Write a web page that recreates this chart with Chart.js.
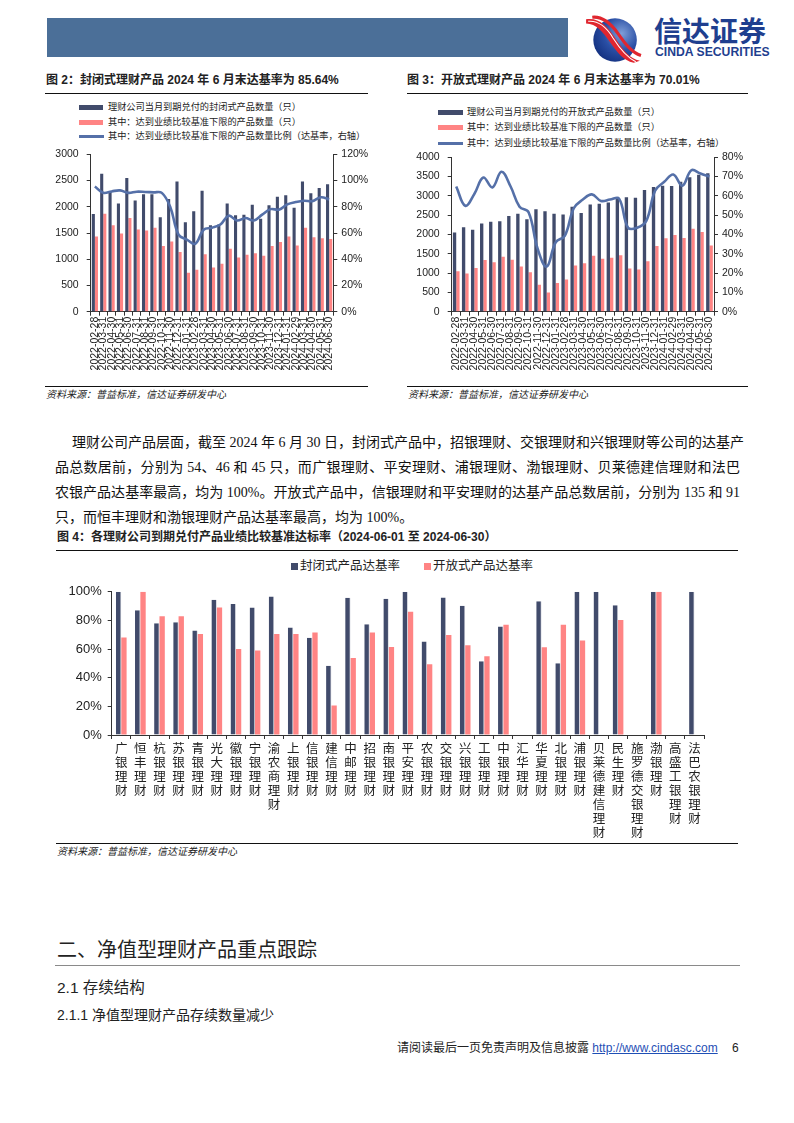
<!DOCTYPE html>
<html><head><meta charset="utf-8">
<script src="https://cdn.jsdelivr.net/npm/chart.js@4/dist/chart.umd.min.js"></script>
<style>
html,body{margin:0;padding:0;background:#fff;}
#page{position:relative;width:794px;height:1123px;overflow:hidden;font-family:"Liberation Sans","Noto Sans CJK SC",sans-serif;color:#222;}
.abs{position:absolute;white-space:nowrap;}
.cjk{font-family:"Liberation Sans","Noto Sans CJK SC",sans-serif;}
.title{font-size:12px;font-weight:bold;line-height:14px;}
.lgtxt{font-size:9.2px;line-height:11px;color:#222;}
.src{font-size:10px;font-style:italic;line-height:12px;color:#222;}
.hl{position:absolute;height:0;border-top:1.3px solid #111;}
.para{font-family:"Liberation Serif","Noto Sans CJK SC",serif;font-size:14px;line-height:18px;color:#111;text-align:justify;text-align-last:justify;white-space:nowrap;}
.cw{position:absolute;}
</style></head>
<body><div id="page">

<!-- header -->
<div class="abs" style="left:47px;top:18px;width:521px;height:39px;background:#4B6F98;"></div>
<svg class="abs" style="left:584px;top:15px" width="58" height="50" viewBox="0 0 56 48">
<defs><radialGradient id="g" cx="0.65" cy="0.35" r="0.8"><stop offset="0" stop-color="#7f9ed8"/><stop offset="0.5" stop-color="#2a4fa5"/><stop offset="1" stop-color="#0e2a78"/></radialGradient></defs>
<circle cx="30" cy="24" r="21" fill="url(#g)"/>
<path d="M2 4 C14 2 22 10 30 22 C38 34 44 42 54 44 L48 46 C38 44 32 36 25 26 C18 16 12 8 2 8 Z" fill="#e0262f"/>
<path d="M4 6 C15 5 22 12 28 22 C35 33 42 41 50 45" stroke="#fff" stroke-width="1" fill="none"/>
<path d="M8 2 C18 1 26 8 33 18 C40 28 46 36 55 39" stroke="#e0262f" stroke-width="3" fill="none"/>
</svg>
<div class="abs cjk" style="left:654px;top:17px;font-size:28px;line-height:32px;font-weight:bold;color:#1f3f8f;">信达证券</div>
<div class="abs" style="left:655px;top:45.5px;font-size:12.2px;line-height:13px;font-weight:bold;color:#1f3f8f;">CINDA SECURITIES</div>

<!-- fig 2/3 titles -->
<div class="abs title cjk" style="left:46px;top:73px;">图 2：封闭式理财产品 2024 年 6 月末达基率为 85.64%</div>
<div class="abs title cjk" style="left:407px;top:73px;">图 3：开放式理财产品 2024 年 6 月末达基率为 70.01%</div>
<div class="hl" style="left:45px;top:93px;width:323px;"></div>
<div class="hl" style="left:407px;top:93px;width:341px;"></div>

<!-- legend chart 2 -->
<div class="abs" style="left:79px;top:105px;width:24px;height:5px;background:#414B6B;"></div>
<div class="abs lgtxt" style="left:108px;top:102px;">理财公司当月到期兑付的封闭式产品数量（只）</div>
<div class="abs" style="left:79px;top:119.8px;width:24px;height:5px;background:#FF8484;"></div>
<div class="abs lgtxt" style="left:108px;top:116.8px;">其中：达到业绩比较基准下限的产品数量（只）</div>
<div class="abs" style="left:79px;top:134.5px;width:25px;height:3px;background:#5570A8;"></div>
<div class="abs lgtxt" style="left:108px;top:130.5px;">其中：达到业绩比较基准下限的产品数量比例（达基率，右轴）</div>

<!-- legend chart 3 -->
<div class="abs" style="left:438px;top:110.2px;width:25px;height:5px;background:#414B6B;"></div>
<div class="abs lgtxt" style="left:467px;top:107.2px;">理财公司当月到期兑付的开放式产品数量（只）</div>
<div class="abs" style="left:438px;top:125.2px;width:25px;height:5px;background:#FF8484;"></div>
<div class="abs lgtxt" style="left:467px;top:122.2px;">其中：达到业绩比较基准下限的产品数量（只）</div>
<div class="abs" style="left:438px;top:141.8px;width:25px;height:3px;background:#5570A8;"></div>
<div class="abs lgtxt" style="left:467px;top:137.8px;">其中：达到业绩比较基准下限的产品数量比例（达基率，右轴）</div>

<div class="cw" style="left:45px;top:140px;width:323px;height:240px;"><canvas id="c2"></canvas></div>
<div class="cw" style="left:405px;top:143px;width:343px;height:237px;"><canvas id="c3"></canvas></div>

<div class="hl" style="left:45px;top:386px;width:323px;"></div>
<div class="hl" style="left:407px;top:386px;width:341px;"></div>
<div class="abs src cjk" style="left:46px;top:389px;">资料来源：普益标准，信达证券研发中心</div>
<div class="abs src cjk" style="left:408px;top:389px;">资料来源：普益标准，信达证券研发中心</div>

<!-- paragraph -->
<div class="abs para" style="left:72px;top:434px;width:668px;">理财公司产品层面，截至 2024 年 6 月 30 日，封闭式产品中，招银理财、交银理财和兴银理财等公司的达基产</div>
<div class="abs para" style="left:55px;top:459px;width:685px;">品总数居前，分别为 54、46 和 45 只，而广银理财、平安理财、浦银理财、渤银理财、贝莱德建信理财和法巴</div>
<div class="abs para" style="left:55px;top:484px;width:685px;">农银产品达基率最高，均为 100%。开放式产品中，信银理财和平安理财的达基产品总数居前，分别为 135 和 91</div>
<div class="abs para" style="left:55px;top:509px;text-align-last:left;">只，而恒丰理财和渤银理财产品达基率最高，均为 100%。</div>

<!-- fig 4 -->
<div class="abs title cjk" style="left:57px;top:530px;">图 4：各理财公司到期兑付产品业绩比较基准达标率（2024-06-01 至 2024-06-30）</div>
<div class="hl" style="left:56px;top:550px;width:682px;"></div>
<div class="abs" style="left:291px;top:563px;width:6.5px;height:6.5px;background:#414B6B;"></div>
<div class="abs cjk" style="left:300px;top:558px;font-size:12.5px;line-height:16px;">封闭式产品达基率</div>
<div class="abs" style="left:424px;top:563px;width:6.5px;height:6.5px;background:#FF8484;"></div>
<div class="abs cjk" style="left:433px;top:558px;font-size:12.5px;line-height:16px;">开放式产品达基率</div>
<div class="cw" style="left:55px;top:575px;width:683px;height:268px;"><canvas id="c4"></canvas></div>
<div class="hl" style="left:56px;top:843px;width:682px;"></div>
<div class="abs src cjk" style="left:57px;top:846px;">资料来源：普益标准，信达证券研发中心</div>

<!-- section -->
<div class="abs cjk" style="left:57px;top:937px;font-size:20px;line-height:26px;color:#222;">二、净值型理财产品重点跟踪</div>
<div class="abs" style="left:55px;top:965px;width:685px;height:0;border-top:1px solid #8a8a8a;"></div>
<div class="abs cjk" style="left:57px;top:978px;font-size:15.5px;line-height:20px;color:#222;">2.1 存续结构</div>
<div class="abs cjk" style="left:57px;top:1006px;font-size:14px;line-height:18px;color:#222;">2.1.1 净值型理财产品存续数量减少</div>

<!-- footer -->
<div class="abs cjk" style="left:397px;top:1040px;font-size:12px;line-height:16px;color:#222;">请阅读最后一页免责声明及信息披露 <span style="color:#1f4fb5;text-decoration:underline;font-family:'Liberation Sans';">http://www.cindasc.com</span></div>
<div class="abs" style="left:732px;top:1040px;font-size:12px;line-height:16px;">6</div>

</div>
<script>
const dates = ['2022-02-28','2022-03-31','2022-04-30','2022-05-31','2022-06-30','2022-07-31','2022-08-31','2022-09-30','2022-10-31','2022-11-30','2022-12-31','2023-01-31','2023-02-28','2023-03-31','2023-04-30','2023-05-31','2023-06-30','2023-07-31','2023-08-31','2023-09-30','2023-10-31','2023-11-30','2023-12-31','2024-01-31','2024-02-29','2024-03-31','2024-04-30','2024-05-31','2024-06-30'];

const closedTotal = [1860,2630,2290,2060,2550,2120,2240,2240,1800,2150,2480,1705,1915,2305,1650,1660,2060,1840,1850,2040,1770,2030,2190,2220,1980,2480,2260,2360,2430];
const closedMet   = [1435,1865,1650,1490,1785,1565,1546,1600,1250,1337,1140,740,800,1096,844,912,1200,1035,1084,1115,1066,1250,1330,1435,1263,1601,1417,1398,1386];
const closedRate  = [95.5,90.6,91.7,92.5,90.6,91.5,91.3,91.0,90.6,80.0,58.8,55.0,51.8,62.5,64.0,66.5,73.2,69.5,71.4,69.6,74.0,78.2,77.8,81.8,83.6,84.6,84.3,87.2,85.64];

const openTotal = [2050,2190,2120,2285,2330,2345,2480,2535,2395,2655,2605,2540,2520,2720,2560,2780,2795,2830,2940,2965,2950,3150,3230,3260,3255,3365,3480,3550,3590];
const openMet   = [1045,990,1130,1340,1280,1425,1345,1170,1020,695,500,745,835,1195,1255,1450,1370,1395,1465,1120,1095,1305,1705,1900,1990,1910,2150,2065,1715];
const openRate  = [64.9,54.9,61.0,69.5,64.4,72.5,65.0,54.4,51.5,32.6,23.4,36.0,39.3,53.6,58.1,60.8,57.4,58.1,58.6,43.5,43.5,46.9,62.8,67.3,71.1,65.3,73.3,71.6,70.01];

const companies = ['广银理财','恒丰理财','杭银理财','苏银理财','青银理财','光大理财','徽银理财','宁银理财','渝农商理财','上银理财','信银理财','建信理财','中邮理财','招银理财','南银理财','平安理财','农银理财','交银理财','兴银理财','工银理财','中银理财','汇华理财','华夏理财','北银理财','浦银理财','贝莱德建信理财','民生理财','施罗德交银理财','渤银理财','高盛工银理财','法巴农银理财'];
const closedRateByCo = [100,87,78,78.6,73,94.4,91.4,89,96.7,75.1,67.9,48.4,95.8,77.2,95.1,100,65.3,96,90.2,51.4,75.8,null,93.3,50,100,100,90.5,null,100,null,100];
const openRateByCo   = [68.1,100,82.8,82.8,70.5,89,60,59,70.5,70.5,71.6,20.5,53.7,71.6,61.4,86,49.3,69.8,62.6,54.9,77,null,61.2,77,66,null,80.2,null,100,null,null];

const DARK = '#414B6B', PINK = '#FF8484', LINE = '#5570A8', AX = '#333';
Chart.defaults.font.family = '"Liberation Sans", Arial, sans-serif';
Chart.defaults.color = '#222';

function axisGrid(){ return {drawOnChartArea:false, drawTicks:true, tickLength:4, color:AX, lineWidth:1}; }

function comboChart(id, labels, total, met, rate, leftMax, leftStep, rightMax, rightStep, wLeft, wRight){
  return new Chart(document.getElementById(id), {
    data: {
      labels: labels,
      datasets: [
        {type:'line', data: rate, yAxisID:'y1', borderColor: LINE, borderWidth: 2.6, pointRadius: 0, tension: 0.4, order: 0, fill:false},
        {type:'bar', data: total, yAxisID:'y', backgroundColor: DARK, order: 1, categoryPercentage: 0.74, barPercentage: 1},
        {type:'bar', data: met, yAxisID:'y', backgroundColor: PINK, order: 1, categoryPercentage: 0.74, barPercentage: 1}
      ]
    },
    options: {
      responsive: true, maintainAspectRatio: false, animation: false,
      layout: {padding: {top: 9.3, left: 0, right: 0, bottom: 0}},
      plugins: {legend: {display: false}, tooltip: {enabled: false}},
      scales: {
        x: {grid: axisGrid(), border: {display:true, color: AX, width: 1},
            ticks: {autoSkip: false, minRotation: 90, maxRotation: 90, padding: 1, font: {size: 10.5}, color:'#222'},
            afterFit: s => { s.height = 68.3; }},
        y: {position:'left', min: 0, max: leftMax, grid: axisGrid(), border: {display:true, color: AX, width: 1},
            ticks: {stepSize: leftStep, padding: 8, font: {size: 10.5}, color:'#222', callback: v => String(v)},
            afterFit: s => { s.width = wLeft; }},
        y1: {position:'right', min: 0, max: rightMax, grid: axisGrid(), border: {display:true, color: AX, width: 1},
            ticks: {stepSize: rightStep, padding: 4, font: {size: 10.5}, color:'#222', callback: v => v + '%'},
            afterFit: s => { s.width = wRight; }}
      }
    }
  });
}

comboChart('c2', dates, closedTotal, closedMet, closedRate, 3000, 500, 120, 20, 45.7, 34.7);
comboChart('c3', dates, openTotal, openMet, openRate, 4000, 500, 80, 10, 46.7, 34);

new Chart(document.getElementById('c4'), {
  type: 'bar',
  data: {
    labels: companies.map(s => s.split('')),
    datasets: [
      {data: closedRateByCo, backgroundColor: DARK, borderColor:'#c9ccd6', borderWidth:{right:0.8}, categoryPercentage: 0.56, barPercentage: 1},
      {data: openRateByCo, backgroundColor: PINK, categoryPercentage: 0.56, barPercentage: 1}
    ]
  },
  options: {
    responsive: true, maintainAspectRatio: false, animation: false,
    layout: {padding: {top: 16.7, right: 34, left: 0, bottom: 0}},
    plugins: {legend: {display: false}, tooltip: {enabled: false}},
    scales: {
      x: {grid: axisGrid(), border: {display:true, color: AX, width: 1},
          ticks: {autoSkip:false, maxRotation: 0, minRotation: 0, padding: 2, color:'#222',
                  font: {family: '"Noto Sans CJK SC", sans-serif', size: 12.5, lineHeight: '14px'}},
          afterFit: s => { s.height = 108; }},
      y: {min: 0, max: 100, grid: axisGrid(), border: {display:true, color: AX, width: 1},
          ticks: {stepSize: 20, padding: 6, font: {size: 13}, color:'#222', callback: v => v + '%'},
          afterFit: s => { s.width = 56.7; }}
    }
  }
});
</script>
</body></html>
